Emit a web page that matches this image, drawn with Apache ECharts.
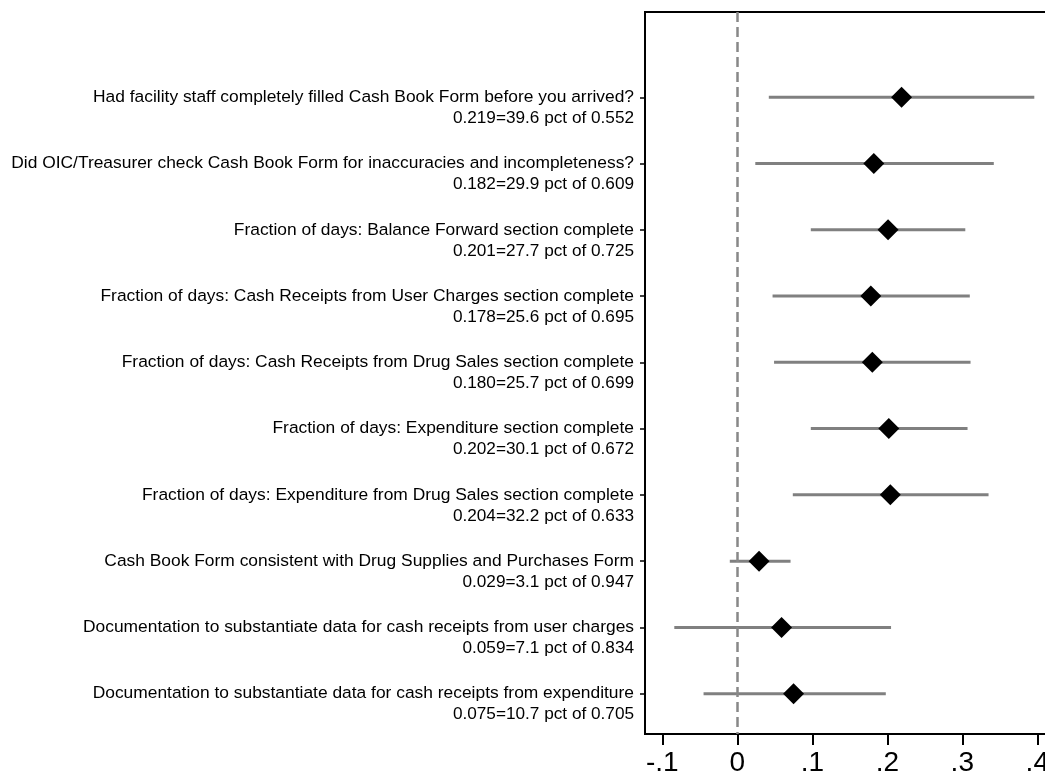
<!DOCTYPE html>
<html><head><meta charset="utf-8">
<script src="https://cdn.jsdelivr.net/npm/echarts@6/dist/echarts.min.js"></script>
<style>html,body{margin:0;padding:0;background:#fff}#c{width:1045px;height:776px}</style>
</head><body><div id="c"></div>
<script>
var questions = [
  "Had facility staff completely filled Cash Book Form before you arrived?",
  "Did OIC/Treasurer check Cash Book Form for inaccuracies and incompleteness?",
  "Fraction of days: Balance Forward section complete",
  "Fraction of days: Cash Receipts from User Charges section complete",
  "Fraction of days: Cash Receipts from Drug Sales section complete",
  "Fraction of days: Expenditure section complete",
  "Fraction of days: Expenditure from Drug Sales section complete",
  "Cash Book Form consistent with Drug Supplies and Purchases Form",
  "Documentation to substantiate data for cash receipts from user charges",
  "Documentation to substantiate data for cash receipts from expenditure"
];
var subLabels = [
  "0.219=39.6 pct of 0.552",
  "0.182=29.9 pct of 0.609",
  "0.201=27.7 pct of 0.725",
  "0.178=25.6 pct of 0.695",
  "0.180=25.7 pct of 0.699",
  "0.202=30.1 pct of 0.672",
  "0.204=32.2 pct of 0.633",
  "0.029=3.1 pct of 0.947",
  "0.059=7.1 pct of 0.834",
  "0.075=10.7 pct of 0.705"
];
var estimates = [0.219, 0.182, 0.201, 0.178, 0.180, 0.202, 0.204, 0.029, 0.059, 0.075];
var ciLow  = [0.042, 0.024, 0.098, 0.047, 0.049, 0.098, 0.074, -0.010, -0.084, -0.045];
var ciHigh = [0.396, 0.342, 0.304, 0.310, 0.311, 0.307, 0.335, 0.071, 0.205, 0.198];
var xTicks = [-0.1, 0, 0.1, 0.2, 0.3, 0.4];
var xTickLabels = ["-.1", "0", ".1", ".2", ".3", ".4"];
var refLine = 0;

var rows = questions.map(function(_, i){ return i; });
var ciData = rows.map(function(i){ return [ciLow[i], ciHigh[i], i]; });
var ptData = rows.map(function(i){ return [estimates[i], i]; });

var chart = echarts.init(document.getElementById('c'), null, {renderer: 'canvas'});
chart.setOption({
  animation: false,
  backgroundColor: '#fff',
  grid: {left: 645, top: 12, width: 410, height: 722, containLabel: false, outerBoundsMode: 'none',
    show: true, borderColor: '#000', borderWidth: 2, backgroundColor: 'transparent'},
  xAxis: {
    type: 'value', min: -0.12307, max: 0.4236,
    axisLine: {show: true, onZero: false, lineStyle: {color: '#000', width: 2}},
    axisTick: {show: true, length: 11, customValues: xTicks, lineStyle: {color: '#000', width: 2}},
    axisLabel: {show: true, customValues: xTicks, margin: 15, fontFamily: 'Liberation Sans', fontSize: 28, color: '#000',
      hideOverlap: false,
      formatter: function(v){ var k = xTicks.findIndex(function(t){ return Math.abs(t - v) < 1e-9; }); return k >= 0 ? xTickLabels[k] : ''; }},
    splitLine: {show: false}
  },
  yAxis: {
    type: 'value', inverse: true, min: -1.2873, max: 9.609,
    axisLine: {show: true, onZero: false, lineStyle: {color: '#000', width: 2}},
    axisTick: {show: true, length: 5, customValues: rows, lineStyle: {color: '#000', width: 1.5}},
    axisLabel: {show: true, customValues: rows, margin: 11, fontFamily: 'Liberation Sans', fontSize: 17.4, lineHeight: 21, color: '#000', align: 'right',
      rich: {
        a: {fontFamily: 'Liberation Sans', fontSize: 17.4, lineHeight: 21, color: '#000'},
        b: {fontFamily: 'Liberation Sans', fontSize: 17.2, lineHeight: 21, color: '#000'}
      },
      formatter: function(v){ var i = Math.round(v); return '\n{a|' + questions[i] + '}\n{b|' + subLabels[i] + '}'; }},
    splitLine: {show: false}
  },
  series: [
    {
      type: 'custom',
      data: ciData,
      encode: {x: [0, 1], y: 2},
      renderItem: function(params, api){
        var a = api.coord([api.value(0), api.value(2)]);
        var b = api.coord([api.value(1), api.value(2)]);
        return {type: 'line', shape: {x1: a[0], y1: a[1], x2: b[0], y2: b[1]}, style: {stroke: '#808080', lineWidth: 3}};
      },
      z: 2,
      markLine: {
        silent: true, symbol: 'none', label: {show: false},
        lineStyle: {color: '#888888', width: 2.5, type: [10, 5], opacity: 1},
        data: [{xAxis: refLine}]
      }
    },
    {
      type: 'scatter',
      data: ptData,
      symbol: 'diamond', symbolSize: 21,
      itemStyle: {color: '#000', opacity: 1},
      z: 3
    }
  ]
});
</script>
</body></html>
